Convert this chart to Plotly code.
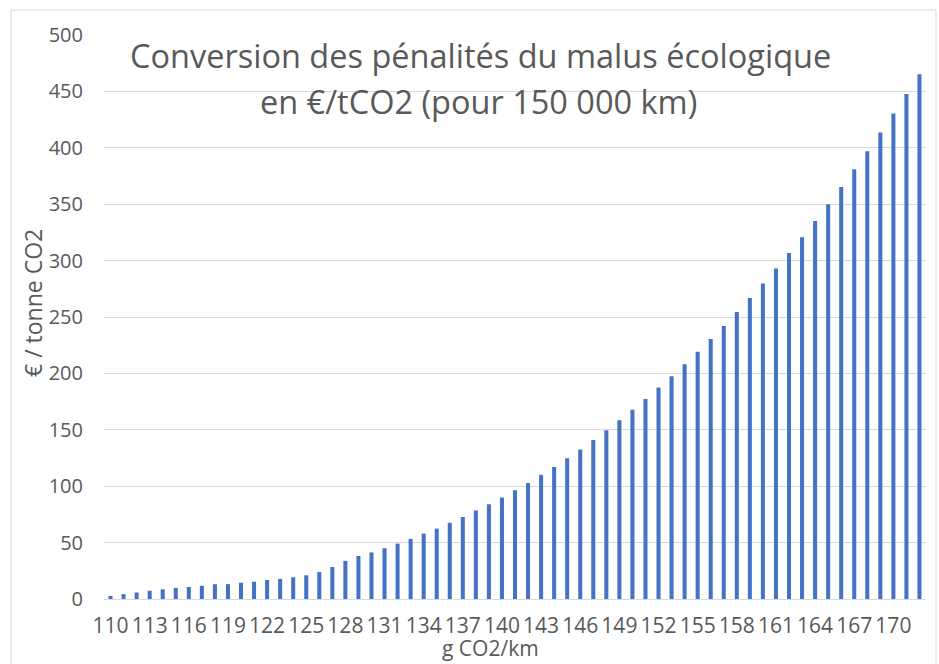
import plotly.graph_objects as go

# Emission levels (g CO2/km) and malus penalty converted to €/t CO2 over 150 000 km
emissions = list(range(110, 173))
eur_per_tonne = [
    2.7, 4.3, 5.8, 7.3, 8.6, 9.8, 10.7, 11.7, 13.1, 13.2,
    14.4, 15.3, 16.9, 17.8, 19.3, 21.0, 23.9, 28.3, 33.8, 38.1,
    41.3, 45.0, 49.1, 53.3, 58.0, 62.4, 67.6, 72.7, 78.5, 84.0,
    89.9, 96.4, 102.8, 110.1, 117.0, 124.7, 132.6, 140.9, 149.6, 158.4,
    167.7, 177.3, 187.4, 197.4, 208.1, 219.3, 230.5, 242.0, 254.4, 266.8,
    279.6, 292.9, 306.7, 320.7, 335.1, 349.9, 365.2, 380.9, 396.9, 413.5,
    430.3, 447.7, 465.2,
]
x_tick_labels = [str(v) for v in range(110, 171, 3)]
y_tick_values = [0, 50, 100, 150, 200, 250, 300, 350, 400, 450, 500]

title_lines = ["Conversion des pénalités du malus écologique",
               "en €/tCO2 (pour 150 000 km)"]
x_title = "g CO2/km"
y_title = "€ / tonne CO2"

W, H = 939, 664
ML, MR, MT, MB = 104, 13, 35, 65
PW = W - ML - MR
PH = H - MT - MB

TEXT = "#595959"
GRID = "#D9D9D9"
FONT = "Open Sans"


def px_x(px):
    return (px - ML) / PW


def px_y(py):
    return (H - MB - py) / PH


fig = go.Figure(
    go.Bar(
        x=[str(v) for v in emissions],
        y=eur_per_tonne,
        marker=dict(color="#4472C4", line=dict(width=0)),
        hoverinfo="x+y",
    )
)

fig.update_layout(
    width=W,
    height=H,
    margin=dict(l=ML, r=MR, t=MT, b=MB, pad=0),
    paper_bgcolor="white",
    plot_bgcolor="white",
    bargap=0.69,
    showlegend=False,
    font=dict(family=FONT, color=TEXT),
)

fig.update_xaxes(
    type="category",
    tickmode="array",
    tickvals=x_tick_labels,
    ticktext=x_tick_labels,
    tickangle=0,
    tickfont=dict(size=21, color=TEXT, family=FONT),
    ticks="",
    ticklabelstandoff=12,
    showgrid=False,
    showline=False,
    zeroline=False,
)

fig.update_yaxes(
    range=[0, 500],
    tickmode="array",
    tickvals=y_tick_values,
    tickfont=dict(size=20, color=TEXT, family=FONT),
    ticks="",
    ticklabelstandoff=20,
    showgrid=True,
    gridcolor=GRID,
    gridwidth=1,
    zeroline=True,
    zerolinecolor=GRID,
    zerolinewidth=1,
    showline=False,
)

annotations = [
    dict(text=title_lines[0], x=px_x(480), y=px_y(55), xref="paper", yref="paper",
         xanchor="center", yanchor="middle", showarrow=False,
         font=dict(size=32.5, color=TEXT, family=FONT)),
    dict(text=title_lines[1], x=px_x(478), y=px_y(102), xref="paper", yref="paper",
         xanchor="center", yanchor="middle", showarrow=False,
         font=dict(size=32.5, color=TEXT, family=FONT)),
    dict(text=x_title, x=px_x(490), y=px_y(648), xref="paper", yref="paper",
         xanchor="center", yanchor="middle", showarrow=False,
         font=dict(size=21, color=TEXT, family=FONT)),
    dict(text=y_title, x=px_x(33), y=px_y(303), xref="paper", yref="paper",
         xanchor="center", yanchor="middle", showarrow=False, textangle=-90,
         font=dict(size=23, color=TEXT, family=FONT)),
]
fig.update_layout(annotations=annotations)

# Light frame around the chart area
fig.add_shape(
    type="rect", xref="paper", yref="paper",
    x0=px_x(11), x1=px_x(936), y0=px_y(672), y1=px_y(10),
    line=dict(color=GRID, width=1), fillcolor="rgba(0,0,0,0)", layer="below",
)

fig.write_html("out.html")
